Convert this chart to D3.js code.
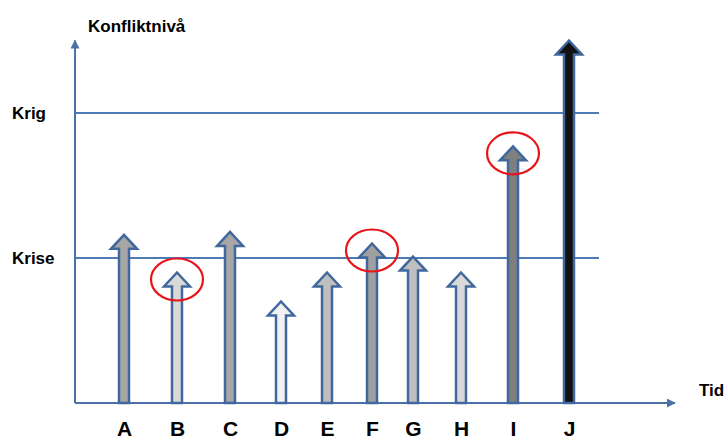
<!DOCTYPE html>
<html>
<head>
<meta charset="utf-8">
<script src="https://cdn.jsdelivr.net/npm/d3@7"></script>
<style>
  body { margin: 0; background: #fff; }
  text { font-family: "Liberation Sans", Arial, sans-serif; font-weight: bold; fill: #000; }
</style>
</head>
<body>
<script>
// events along the time axis
const labels = ["A", "B", "C", "D", "E", "F", "G", "H", "I", "J"];
const times = [0.98, 2.04, 3.1, 4.12, 5.04, 5.94, 6.76, 7.72, 8.76, 9.88];
const levels = [1.16, 0.90, 1.18, 0.70, 0.90, 1.10, 1.01, 0.90, 1.77, 2.50];
const fills = ["#a6a6a6", "#d9d9d9", "#a6a6a6", "#f2f2f2", "#bfbfbf", "#a0a0a0", "#bfbfbf", "#d9d9d9", "#7f7f7f", "#111111"];
const circled = [false, true, false, false, false, true, false, false, true, false];

// threshold lines
const thresholdNames = ["Krise", "Krig"];
const thresholdLevels = [1, 2];

const width = 726, height = 439;

const x = d3.scaleLinear().domain([0, 12]).range([75, 675]);
const y = d3.scaleLinear().domain([0, 2]).range([403, 113]);

const svg = d3.select("body").append("svg")
    .attr("width", width)
    .attr("height", height);

const axisColor = "#4a72a8";

const defs = svg.append("defs");
defs.append("marker")
    .attr("id", "ah")
    .attr("viewBox", "0 0 10 10")
    .attr("refX", 9).attr("refY", 5)
    .attr("markerWidth", 4.5).attr("markerHeight", 4.5)
    .attr("markerUnits", "strokeWidth")
    .attr("orient", "auto")
  .append("path")
    .attr("d", "M0,0L10,5L0,10z")
    .attr("fill", axisColor);

// threshold lines
svg.selectAll("line.level")
    .data(thresholdLevels)
    .enter().append("line")
    .attr("class", "level")
    .attr("x1", x(0)).attr("x2", x(10.48))
    .attr("y1", d => y(d)).attr("y2", d => y(d))
    .attr("stroke", "#4f7bb5")
    .attr("stroke-width", 2);

svg.selectAll("text.level")
    .data(thresholdLevels)
    .enter().append("text")
    .attr("class", "level")
    .attr("x", 12)
    .attr("y", d => y(d))
    .attr("dy", "0.36em")
    .style("font-size", "17px")
    .text((d, i) => thresholdNames[i]);

// axes
svg.append("line")
    .attr("x1", x(0)).attr("x2", x(12))
    .attr("y1", y(0)).attr("y2", y(0))
    .attr("stroke", axisColor).attr("stroke-width", 2)
    .attr("marker-end", "url(#ah)");

svg.append("line")
    .attr("x1", x(0)).attr("x2", x(0))
    .attr("y1", y(0)).attr("y2", y(2.5))
    .attr("stroke", axisColor).attr("stroke-width", 2)
    .attr("marker-end", "url(#ah)");

const xAxis = d3.axisBottom(x)
    .tickValues(times)
    .tickSize(0)
    .tickPadding(18)
    .tickFormat((d, i) => labels[i]);

const gx = svg.append("g")
    .attr("transform", `translate(0,${y(0)})`)
    .call(xAxis);
gx.select(".domain").remove();
gx.selectAll("text")
    .attr("font-family", null)
    .style("font-size", "21px");

svg.append("text")
    .attr("x", 88).attr("y", 32)
    .style("font-size", "17px")
    .text("Konfliktnivå");

svg.append("text")
    .attr("x", 699).attr("y", 396)
    .style("font-size", "17px")
    .text("Tid");

// arrows
const shaft = 5, head = 13, headH = 14;
const arrowPath = (t, v) => {
  const cx = x(t), tip = y(v), base = y(0);
  return `M${cx - shaft},${base}V${tip + headH}H${cx - head}L${cx},${tip}L${cx + head},${tip + headH}H${cx + shaft}V${base}Z`;
};

svg.selectAll("path.arrow")
    .data(times)
    .enter().append("path")
    .attr("class", "arrow")
    .attr("d", (d, i) => arrowPath(d, levels[i]))
    .attr("fill", (d, i) => fills[i])
    .attr("stroke", "#41689c")
    .attr("stroke-width", 2.5)
    .attr("stroke-linejoin", "miter");

// red circles highlighting some arrow tips
svg.selectAll("ellipse.mark")
    .data(times.filter((d, i) => circled[i]))
    .enter().append("ellipse")
    .attr("class", "mark")
    .attr("cx", d => x(d))
    .attr("cy", d => y(levels[times.indexOf(d)]) + 7)
    .attr("rx", 26)
    .attr("ry", 21)
    .attr("fill", "none")
    .attr("stroke", "#e8141a")
    .attr("stroke-width", 2.2);
</script>
</body>
</html>
